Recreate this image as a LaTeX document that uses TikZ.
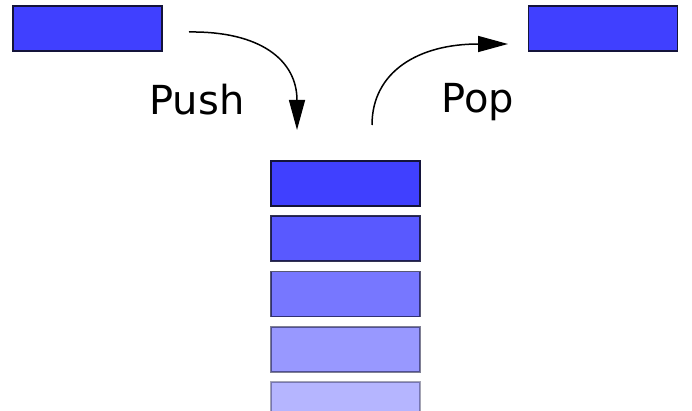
\documentclass[tikz,border=0pt]{standalone}
\usepackage{fontspec}
\setmainfont{DejaVu Sans}
\usetikzlibrary{arrows.meta}
\definecolor{boxblue}{HTML}{4040FF}
\definecolor{boxline}{HTML}{14143A}
\tikzset{
  databox/.style={draw=boxline, fill=boxblue, line width=1.8pt, minimum width=149pt, minimum height=45pt, inner sep=0pt, outer sep=0pt},
  label/.style={font=\fontsize{40}{48}\selectfont, inner sep=0pt, anchor=base},
  flow/.style={line width=1.5pt, -{Triangle[length=30pt,width=16pt]}}
}
\begin{document}
\begin{tikzpicture}[x=1pt,y=-1pt]
\useasboundingbox (0,0) rectangle (692,411);
\clip (0,0) rectangle (692,411);
\node[databox] (inbox) at (87.5,28.5) {};
\node[databox] (outbox) at (603,28.5) {};
\node[databox] (s1) at (345.5,183.5) {};
\node[databox, opacity=0.87] (s2) at (345.5,238.75) {};
\node[databox, opacity=0.71] (s3) at (345.5,294) {};
\node[databox, opacity=0.54] (s4) at (345.5,349.25) {};
\node[databox, opacity=0.39] (s5) at (345.5,404.5) {};
\node[label] (push) at (197,115) {Push};
\node[label] (pop) at (478,113) {Pop};
\coordinate (pushS) at (189,32);
\coordinate (pushE) at (297,130);
\coordinate (popS) at (372,125);
\coordinate (popE) at (508,44);
\draw[flow] (pushS) .. controls (260,31) and (297,60) .. (pushE);
\draw[flow] (popS) .. controls (372,72) and (418,44) .. (popE);
\end{tikzpicture}
\end{document}
